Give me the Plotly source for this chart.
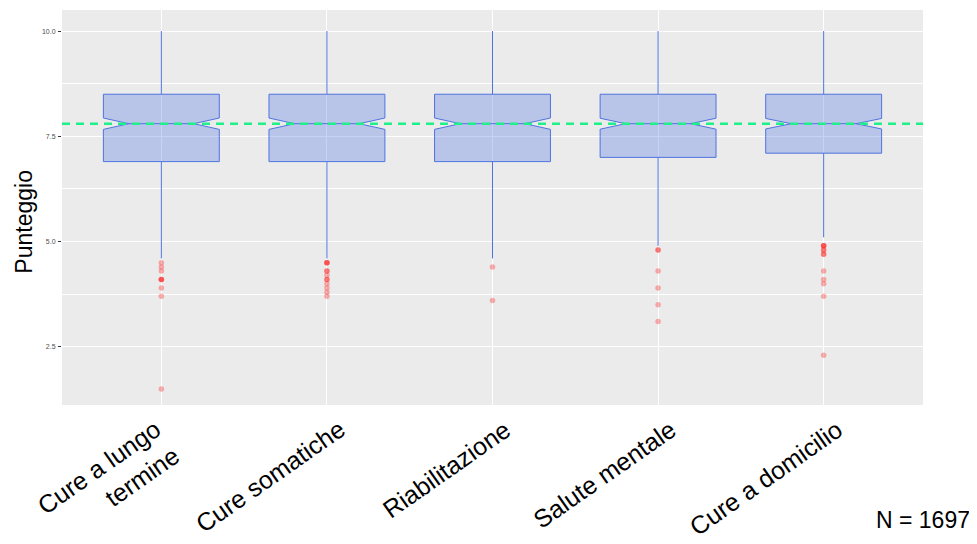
import plotly.graph_objects as go

categories = ["Cure a lungo<br>termine", "Cure somatiche", "Riabilitazione",
              "Salute mentale", "Cure a domicilio"]
q1 = [6.9, 6.9, 6.9, 7.0, 7.1]
median = [7.8, 7.8, 7.8, 7.8, 7.8]
q3 = [8.5, 8.5, 8.5, 8.5, 8.5]
lower_whisker = [4.6, 4.6, 4.6, 4.9, 5.1]
upper_whisker = [10.0, 10.0, 10.0, 10.0, 10.0]
notch_half = [0.135, 0.135, 0.135, 0.13, 0.125]

outliers = {
    0: [4.5, 4.4, 4.3, 4.1, 4.1, 4.1, 3.9, 3.7, 1.5],
    1: [4.5, 4.5, 4.5, 4.3, 4.3, 4.2, 4.1, 4.1, 4.0, 3.9, 3.8, 3.7],
    2: [4.4, 3.6],
    3: [4.8, 4.8, 4.3, 3.9, 3.5, 3.1],
    4: [4.9, 4.9, 4.9, 4.8, 4.8, 4.7, 4.7, 4.3, 4.1, 4.0, 3.7, 2.3],
}
reference_mean = 7.8
n_total = 1697
y_ticks = [2.5, 5.0, 7.5, 10.0]
y_title = "Punteggio"

xs = list(range(len(categories)))

fig = go.Figure()
fig.add_trace(go.Box(
    x=xs, q1=q1, median=median, q3=q3,
    lowerfence=lower_whisker, upperfence=upper_whisker,
    notchspan=notch_half, notched=True, notchwidth=0.22,
    width=0.7, whiskerwidth=0, boxpoints=False,
    fillcolor="rgba(65,105,225,0.3)",
    line=dict(color="#4f74e0", width=1),
    hoverinfo="skip", showlegend=False,
))

ox, oy = [], []
for i, vals in outliers.items():
    ox += [i] * len(vals)
    oy += vals
fig.add_trace(go.Scatter(
    x=ox, y=oy, mode="markers",
    marker=dict(color="rgba(255,0,0,0.3)", size=5.5, line=dict(width=0)),
    showlegend=False, hoverinfo="skip",
))

fig.add_shape(type="line", xref="paper", yref="y", x0=0, x1=1,
              y0=reference_mean, y1=reference_mean,
              line=dict(color="#1ff08a", width=2.5, dash="8px,6px"), layer="above")

# category labels (rotated, top-right anchored like ggplot hjust=1)
for i, label in zip(xs, categories):
    fig.add_annotation(text=label, x=i, xref="x", y=0, yref="paper",
                       xanchor="right", yanchor="top", xshift=26, yshift=-7,
                       textangle=-35, align="right", showarrow=False,
                       font=dict(size=25, color="black"))

fig.add_annotation(text=f"N = {n_total}", xref="paper", yref="paper",
                   x=1.057, y=-0.29, xanchor="right", yanchor="middle",
                   showarrow=False, font=dict(size=23, color="black"))

fig.add_annotation(text=y_title, xref="paper", yref="paper",
                   x=-0.0435, y=0.463, xanchor="center", yanchor="middle",
                   textangle=-90, showarrow=False,
                   font=dict(size=23, color="black"))

fig.update_layout(
    width=969, height=536,
    margin=dict(l=54, r=54, t=2, b=139),
    paper_bgcolor="white", plot_bgcolor="#EBEBEB",
    font=dict(family="Liberation Sans, Arial, sans-serif"),
    xaxis=dict(
        tickmode="array", tickvals=xs, showticklabels=False,
        range=[-0.6, 4.6], showgrid=True, gridcolor="white", gridwidth=1.1,
        zeroline=False, ticks="", showline=False, automargin=False,
    ),
    yaxis=dict(
        range=[1.12, 10.5], tickvals=y_ticks, ticktext=["2.5", "5.0", "7.5", "10.0"],
        showgrid=True, gridcolor="white", gridwidth=1.1, zeroline=False,
        ticks="outside", ticklen=3, tickcolor="#333333", tickwidth=1,
        tickfont=dict(size=7, color="#4D4D4D"), ticklabelstandoff=1,
        minor=dict(tickvals=[3.75, 6.25, 8.75], showgrid=True,
                   gridcolor="white", gridwidth=0.5, ticks=""),
        automargin=False,
    ),
)

fig.write_html("out.html")
